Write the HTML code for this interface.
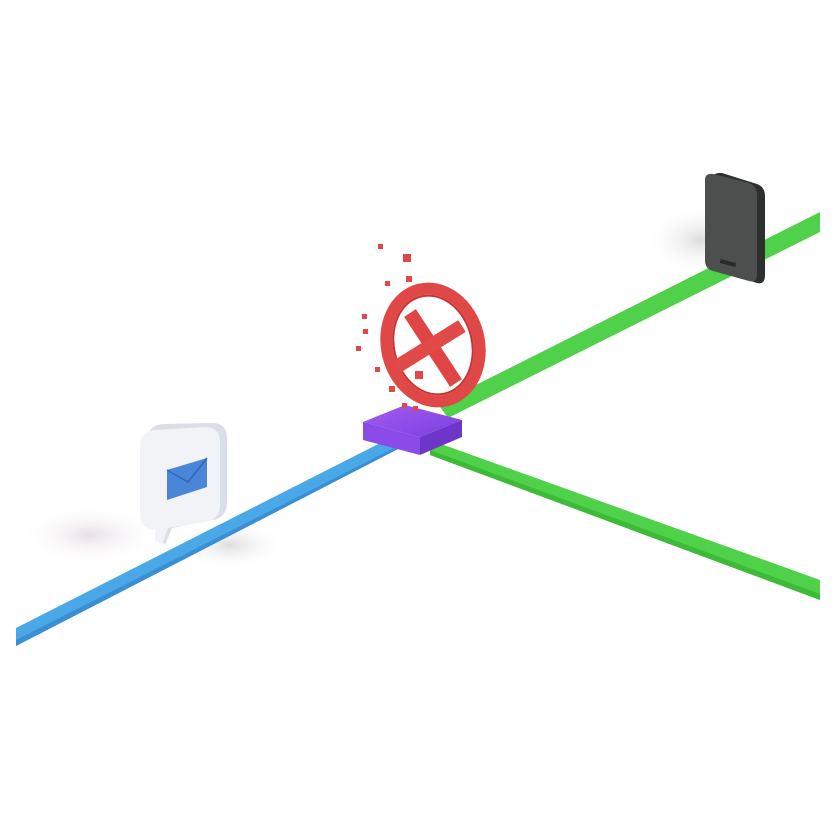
<!DOCTYPE html>
<html><head><style>html,body{margin:0;padding:0;background:#fff;width:836px;height:836px;overflow:hidden}</style></head>
<body>
<svg width="836" height="836" viewBox="0 0 836 836" xmlns="http://www.w3.org/2000/svg">
<defs>
<radialGradient id="sh" cx="50%" cy="50%" r="50%"><stop offset="0" stop-color="#d8c8d4" stop-opacity=".6"/><stop offset="1" stop-color="#fff" stop-opacity="0"/></radialGradient>
<radialGradient id="sh2" cx="50%" cy="50%" r="50%"><stop offset="0" stop-color="#bbb" stop-opacity=".5"/><stop offset="1" stop-color="#fff" stop-opacity="0"/></radialGradient>
<linearGradient id="pu" x1="0" y1="0" x2="1" y2="1"><stop offset="0" stop-color="#a45cf0"/><stop offset="1" stop-color="#7a3fe0"/></linearGradient>
</defs>
<ellipse cx="90" cy="535" rx="70" ry="30" fill="url(#sh)"/>
<ellipse cx="700" cy="240" rx="55" ry="35" fill="url(#sh2)"/>
<ellipse cx="230" cy="545" rx="55" ry="25" fill="url(#sh2)"/>
<polygon points="16,628 392,437 400,448 16,646" fill="#4aa7e8"/>
<polygon points="16,640 400,445 400,448 16,646" fill="#3a8fd4"/>
<polygon points="438,404 820,212 820,232 448,418" fill="#4fd24a"/>
<polygon points="430,440 820,580 820,600 430,455" fill="#4fd24a"/>
<polygon points="430,450 820,594 820,600 430,455" fill="#3cba38"/>
<polygon points="363,422 405,405 462,420 420,437" fill="url(#pu)"/>
<polygon points="363,422 420,437 420,455 363,440" fill="#8a4be8"/>
<polygon points="420,437 462,420 462,437 420,455" fill="#6d36c8"/>
<ellipse cx="433" cy="345" rx="46" ry="57" transform="rotate(-14 433 345)" fill="none" stroke="#e04848" stroke-width="12"/>
<ellipse cx="433" cy="345" rx="39" ry="50" transform="rotate(-14 433 345)" fill="none" stroke="#c93232" stroke-width="2"/>
<line x1="410" y1="313" x2="456" y2="383" stroke="#e04444" stroke-width="14"/>
<line x1="398" y1="366" x2="462" y2="326" stroke="#e24a4a" stroke-width="14"/>
<g fill="#e04848">
<rect x="378" y="244" width="5" height="5"/><rect x="403" y="254" width="8" height="8"/><rect x="406" y="276" width="6" height="6"/>
<rect x="385" y="281" width="5" height="5"/><rect x="362" y="314" width="5" height="5"/><rect x="363" y="329" width="5" height="5"/>
<rect x="356" y="346" width="5" height="5"/><rect x="375" y="367" width="5" height="5"/><rect x="389" y="386" width="6" height="6"/>
<rect x="415" y="371" width="8" height="8"/><rect x="402" y="403" width="5" height="5"/><rect x="413" y="406" width="5" height="5"/>
</g>
<path d="M148,440 Q148,425 163,424 L212,423 Q227,423 227,438 L227,502 Q227,518 212,520 L172,528 L165,545 L158,537 L158,525 Q148,522 148,508 Z" fill="#dadee6"/>
<path d="M140,446 Q140,432 155,430 L205,427 Q220,427 220,442 L220,505 Q220,520 205,522 L168,528 L162,545 L155,540 L155,530 Q140,528 140,515 Z" fill="#f2f3f6"/>
<polygon points="167,470 207,458 207,487 167,500" fill="#4a86d8"/>
<polyline points="167,470 188,482 207,458" fill="none" stroke="#2f66b8" stroke-width="1.5"/>
<path d="M712,178 Q714,172 722,173 L757,184 Q765,187 765,196 L765,275 Q765,285 757,283 L722,272 Q712,270 712,260 Z" fill="#2e3030"/>
<path d="M705,180 Q705,173 713,174 L749,183 Q757,186 757,195 L757,275 Q757,283 749,281 L713,271 Q705,269 705,260 Z" fill="#4c4f4e"/>
<rect x="720" y="261" width="16" height="4" fill="#2a2a2a" transform="rotate(15 728 263)"/>
</svg>
</body></html>
